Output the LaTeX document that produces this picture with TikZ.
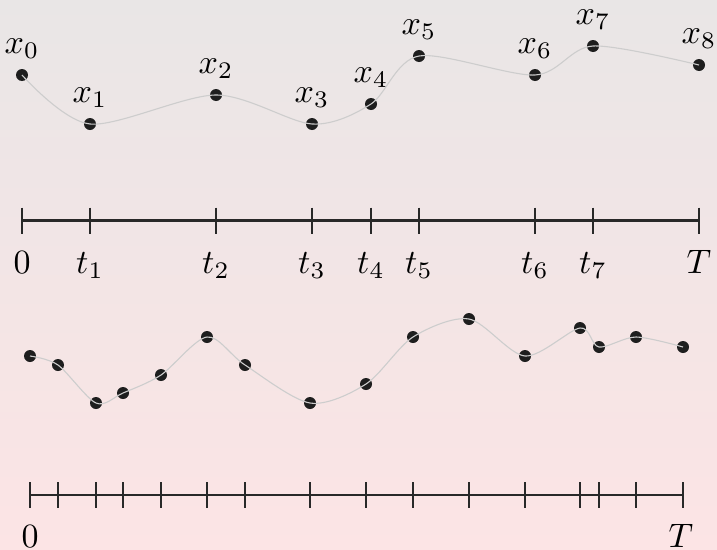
\documentclass[tikz,border=0pt]{standalone}
\definecolor{bgtop}{RGB}{233,230,230}
\definecolor{bgbot}{RGB}{252,228,229}
\definecolor{dotc}{RGB}{30,30,30}
\definecolor{curvec}{RGB}{205,205,205}
\definecolor{axisc}{RGB}{40,40,40}
\begin{document}
\begin{tikzpicture}[x=1pt,y=-1pt,
  dot/.style={circle,fill=dotc,inner sep=0pt,minimum size=12pt},
  curve/.style={curvec,line width=1.1pt},
  axisline/.style={axisc,line width=2.6pt},
  tickmark/.style={axisc,line width=1.1pt},
  lab/.style={scale=3.4,inner sep=0pt,anchor=base}]
\shade[top color=bgtop,bottom color=bgbot] (0,0) rectangle (717,549);
\useasboundingbox (0,0) rectangle (717,549);
% top series
\foreach \n/\x/\y in {0/22/75,1/90/124,2/216/95,3/312/124,4/371/104,5/419/56,6/535/75,7/593/46,8/699/65}{
  \node[dot] (p\n) at (\x,\y) {};
  \node[lab] (lx\n) at (\x,\y-22) {$x_{\n}$};
  \coordinate (t\n) at (\x,220.7);
  \draw[tickmark] ([yshift=13pt]t\n) -- ([yshift=-13pt]t\n);
}
\draw[curve] plot[smooth] coordinates {(p0) (p1) (p2) (p3) (p4) (p5) (p6) (p7) (p8)};
\draw[axisline] (t0) -- (t8);
\node[lab] (l0) at (22,273) {$0$};
\foreach \n/\x in {1/90,2/216,3/312,4/371,5/419,6/535,7/593}{
  \node[lab] (l\n) at (\x,273) {$t_{\n}$};
}
\node[lab] (lT) at (699,273) {$T$};
% bottom series
\foreach \n/\x/\y in {1/30/356,2/58/365,3/96/403,4/123/393,5/161/375,6/207/337,7/245/365,8/310/403,9/366/384,10/413/337,11/469/319,12/525/356,13/580/328,14/599/347,15/636/337,16/683/347}{
  \node[dot] (q\n) at (\x,\y) {};
  \coordinate (s\n) at (\x,495);
  \draw[tickmark] ([yshift=13pt]s\n) -- ([yshift=-13pt]s\n);
}
\draw[curve] plot[smooth] coordinates {(q1) (q2) (q3) (q4) (q5) (q6) (q7) (q8) (q9) (q10) (q11) (q12) (q13) (q14) (q15) (q16)};
\draw[axisline] (s1) -- (s16);
\node[lab] (m0) at (30,547) {$0$};
\node[lab] (mT) at (681,547) {$T$};
\end{tikzpicture}
\end{document}
